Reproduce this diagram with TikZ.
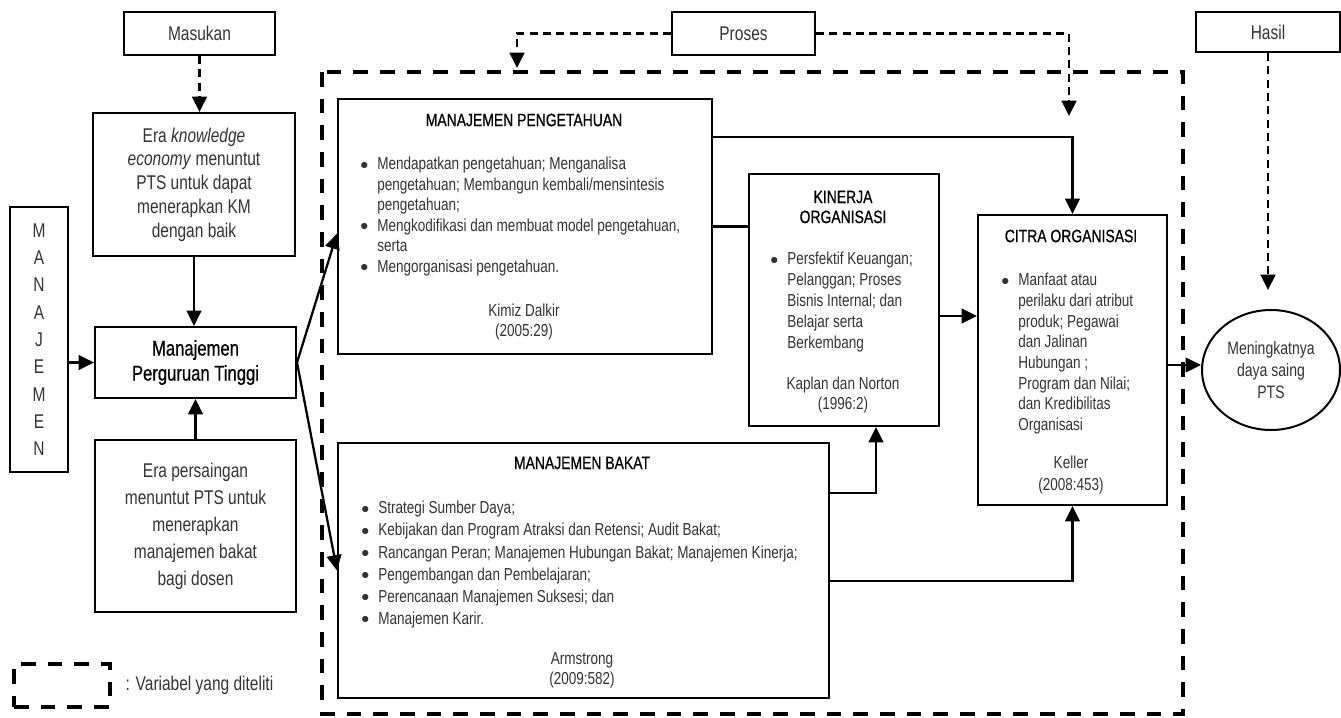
\documentclass[tikz,border=0pt]{standalone}
\usepackage{fontspec}
\setmainfont{Liberation Sans}[FakeStretch=0.78]
\newfontfamily\tebal{Liberation Sans}[FakeStretch=0.78,FakeBold=0.7]
\usetikzlibrary{arrows.meta}
\usetikzlibrary{positioning}
\usetikzlibrary{calc}
\usetikzlibrary{shapes.geometric}

\newcommand{\butir}{\makebox[12.75pt][l]{\raisebox{0.5pt}{$\bullet$}}}
\newcommand{\lanjut}{\makebox[12.75pt][l]{}}

\begin{document}
\begin{tikzpicture}[x=0.75pt,y=0.75pt,yscale=-1,xscale=1,
  kotak/.style={draw, line width=1.5pt, inner sep=0pt},
  panah/.style={line width=1.7pt, -{Triangle[length=11.5pt,width=11pt]}},
  garis/.style={line width=1.7pt},
  putus/.style={line width=1.9pt, dash pattern=on 6pt off 4pt, -{Triangle[length=11.5pt,width=11pt]}},
  bingkai/.style={line width=3.6pt, dash pattern=on 11pt off 9pt},
  judul/.style={inner sep=0pt, align=center, font=\tebal\fontsize{13.4}{15}\selectfont},
  isi/.style={inner sep=0pt, align=left, anchor=north west, text=black!80},
  sumber/.style={inner sep=0pt, align=center, text=black!80, font=\fontsize{13}{15}\selectfont},
  besar/.style={align=center, text=black!80, font=\fontsize{14.9}{17.8}\selectfont}
]
\useasboundingbox (0,0) rectangle (1341,717);

% kotak judul atas
\node[kotak, besar, minimum width=113.25pt, minimum height=32.25pt] (masukan) at (199.5,33.5) {Masukan};
\node[kotak, besar, minimum width=107.25pt, minimum height=32.25pt] (proses) at (743.5,33.5) {Proses};
\node[kotak, besar, minimum width=108pt, minimum height=30pt] (hasil) at (1268,32) {Hasil};

% kolom kiri
\node[kotak, besar, minimum width=151.5pt, minimum height=107.25pt] (era1) at (194,184.5) {Era \textit{knowledge}\\\textit{economy} menuntut\\PTS untuk dapat\\menerapkan KM\\dengan baik};
\node[kotak, besar, minimum width=43.5pt, minimum height=198.75pt, font=\fontsize{14.9}{20.5}\selectfont] (manajemen) at (39,339.5) {M\\A\\N\\A\\J\\E\\M\\E\\N};
\node[kotak, align=center, minimum width=150.75pt, minimum height=53.25pt, font=\tebal\fontsize{16}{18.75}\selectfont] (mpt) at (195.5,362.5) {Manajemen\\Perguruan Tinggi};
\node[kotak, besar, minimum width=150.75pt, minimum height=129pt, font=\fontsize{14.9}{20.25}\selectfont] (era2) at (195.5,526) {Era persaingan\\menuntut PTS untuk\\menerapkan\\manajemen bakat\\bagi dosen};

% variabel yang diteliti
\draw[bingkai] (322,72) rectangle (1183,714);

% manajemen pengetahuan
\node[kotak, minimum width=280.5pt, minimum height=191.25pt, anchor=north west] (mp) at (337,98) {};
\node[judul] (mpjudul) at (524,120) {MANAJEMEN PENGETAHUAN};
\node[isi, font=\fontsize{13}{15.4}\selectfont] (mpisi) at (360,157) {\butir Mendapatkan pengetahuan; Menganalisa\\\lanjut pengetahuan; Membangun kembali/mensintesis\\\lanjut pengetahuan;\\\butir Mengkodifikasi dan membuat model pengetahuan,\\\lanjut serta\\\butir Mengorganisasi pengetahuan.};
\node[sumber] (mpsumber) at (524,322) {Kimiz Dalkir\\(2005:29)};

% kinerja organisasi
\node[kotak, minimum width=142.5pt, minimum height=189pt, anchor=north west] (ko) at (748,173) {};
\node[judul] (kojudul) at (843,207) {KINERJA\\ORGANISASI};
\node[isi, font=\fontsize{13}{15.75}\selectfont] (koisi) at (770,252) {\butir Persfektif Keuangan;\\\lanjut Pelanggan; Proses\\\lanjut Bisnis Internal; dan\\\lanjut Belajar serta\\\lanjut Berkembang};
\node[sumber] (kosumber) at (843,395) {Kaplan dan Norton\\(1996:2)};

% citra organisasi
\node[kotak, minimum width=141.75pt, minimum height=217.5pt, anchor=north west] (co) at (977,214) {};
\node[judul] (cojudul) at (1071,236) {CITRA ORGANISASI};
\node[isi, font=\fontsize{13}{15.5}\selectfont] (coisi) at (1001,273) {\butir Manfaat atau\\\lanjut perilaku dari atribut\\\lanjut produk; Pegawai\\\lanjut dan Jalinan\\\lanjut Hubungan ;\\\lanjut Program dan Nilai;\\\lanjut dan Kredibilitas\\\lanjut Organisasi};
\node[sumber, font=\fontsize{13}{16.5}\selectfont] (cosumber) at (1071,475) {Keller\\(2008:453)};

% manajemen bakat
\node[kotak, minimum width=368.25pt, minimum height=191.25pt, anchor=north west] (mb) at (337,442) {};
\node[judul] (mbjudul) at (582,463) {MANAJEMEN BAKAT};
\node[isi, font=\fontsize{13}{16.6}\selectfont] (mbisi) at (361,501) {\butir Strategi Sumber Daya;\\\butir Kebijakan dan Program Atraksi dan Retensi; Audit Bakat;\\\butir Rancangan Peran; Manajemen Hubungan Bakat; Manajemen Kinerja;\\\butir Pengembangan dan Pembelajaran;\\\butir Perencanaan Manajemen Suksesi; dan\\\butir Manajemen Karir.};
\node[sumber] (mbsumber) at (582,670) {Armstrong\\(2009:582)};

% hasil akhir
\node[draw, ellipse, line width=1.5pt, inner sep=0pt, minimum width=103.5pt, minimum height=90pt, align=center, text=black!80, font=\fontsize{13.5}{16.5}\selectfont] (daya) at (1271,370) {Meningkatnya\\daya saing\\PTS};

% keterangan
\node[draw, bingkai, minimum width=72pt, minimum height=32.25pt] (legenda) at (62,685.5) {};
\node[besar, inner sep=0pt, right=9.75pt of legenda] (legendateks) {: Variabel yang diteliti};

% panah
\coordinate (proseskiri) at (517,68);
\coordinate (proseskanan) at (1069,116);
\coordinate (hasilujung) at (1272,290);
\coordinate (kokanan) at ($(ko.east)+(0,16)$);
\coordinate (mbatas) at ($(mb.north east)+(0,51)$);
\coordinate (mbbawah) at ($(mb.north east)+(0,139)$);
\coordinate (cokanan) at ($(co.east)+(0,5)$);
\coordinate (mpatas) at ($(mp.north east)+(0,39)$);

\draw[putus] (masukan.south) -- (masukan.south |- era1.north);
\draw[putus] (proses.west) -| (proseskiri);
\draw[putus] (proses.east) -| (proseskanan);
\draw[putus] (hasil.south) -- (hasil.south |- hasilujung);

\draw[panah] (era1.south) -- (era1.south |- mpt.north);
\draw[panah] (era2.north) -- (mpt.south);
\draw[panah] (manajemen.east |- mpt.west) -- (mpt.west);
\draw[panah] (mpt.east) -- ($(mp.west)+(0,7)$);
\draw[panah] (mpt.east) -- (mb.west);
\draw[garis] (mp.east) -- (mp.east -| ko.west);
\draw[panah] (mpatas) -| (co.north);
\draw[panah] (kokanan) -- (kokanan -| co.west);
\draw[panah] (mbatas) -| ($(ko.south)+(32,0)$);
\draw[panah] (mbbawah) -| (co.south);
\draw[panah] (cokanan) -- (cokanan -| daya.west);

\end{tikzpicture}
\end{document}
